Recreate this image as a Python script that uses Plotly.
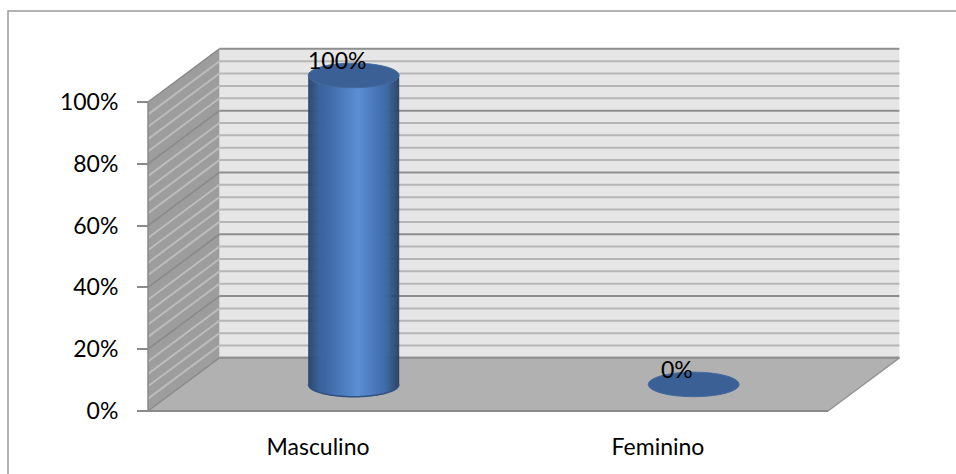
import numpy as np
import plotly.graph_objects as go

# ---- data ----
categories = ["Masculino", "Feminino"]
values = [100, 0]
y_ticks = [0, 20, 40, 60, 80, 100]
y_tick_text = [f"{v}%" for v in y_ticks]

# ---- pseudo-3D geometry (data units: x in categories, y in percent) ----
W, H = 956, 474
PX_PER_CAT = 340.0           # horizontal pixels per category slot
PX_PER_PCT = 3.09            # vertical pixels per percent
FRONT_LEFT_PX = 148.0
FRONT_ZERO_PX = 411.0
DX = 0.21                    # depth offset along x (category units)
DY = 17.2                    # depth offset along y (percent units)
GRID_STEP = 4                # minor gridline spacing
MAJOR_STEP = 20
Y_MAX = 100
N_CAT = len(categories)

x_range = [-FRONT_LEFT_PX / PX_PER_CAT, (W - FRONT_LEFT_PX) / PX_PER_CAT]
y_range = [(FRONT_ZERO_PX - H) / PX_PER_PCT, FRONT_ZERO_PX / PX_PER_PCT]

CYL_A = 45.5 / PX_PER_CAT    # cylinder half width
CYL_B = 12.3 / PX_PER_PCT    # ellipse half height

FONT = "Lato"
shapes = []


def poly(pts, fill, line_color=None, width=0):
    d = "M " + " L ".join(f"{x:.5f},{y:.5f}" for x, y in pts) + " Z"
    return dict(type="path", xref="x", yref="y", path=d, fillcolor=fill,
                line=dict(color=line_color or fill, width=width))


def seg(x0, y0, x1, y1, color, width):
    return dict(type="line", xref="x", yref="y", x0=x0, y0=y0, x1=x1, y1=y1,
                line=dict(color=color, width=width))


# back wall
shapes.append(poly([(DX, DY), (N_CAT + DX, DY), (N_CAT + DX, Y_MAX + DY), (DX, Y_MAX + DY)],
                   "#e6e6e6"))
# side wall
shapes.append(poly([(0, 0), (DX, DY), (DX, Y_MAX + DY), (0, Y_MAX)], "#9d9d9d"))

# gridlines on back and side walls
for g in range(0, Y_MAX + 1, GRID_STEP):
    major = g % MAJOR_STEP == 0
    shapes.append(seg(DX, g + DY, N_CAT + DX, g + DY,
                      "#8e8e8e" if major else "#b6b6b6", 2))
    if 0 < g < Y_MAX:
        shapes.append(seg(0, g, DX, g + DY,
                          "#8a8a8a" if major else "#bcbcbc", 1.6 if major else 2))

# floor
shapes.append(poly([(0, 0), (N_CAT, 0), (N_CAT + DX, DY), (DX, DY)], "#b1b1b1"))
shapes.append(seg(0, 0, N_CAT, 0, "#8a8a8a", 2))
shapes.append(seg(N_CAT, 0, N_CAT + DX, DY, "#949494", 1.5))
shapes.append(seg(DX, DY, N_CAT + DX, DY, "#8e8e8e", 2))
shapes.append(seg(0, 0, DX, DY, "#8a8a8a", 1.5))
# side wall front edge and top edge
shapes.append(seg(0, 0, 0, Y_MAX, "#8a8a8a", 1.5))
shapes.append(seg(0, Y_MAX, DX, Y_MAX + DY, "#8a8a8a", 1.5))


def shade(t):
    stops = [(0.0, (40, 68, 106)), (0.12, (56, 96, 154)), (0.55, (92, 143, 212)),
             (0.85, (62, 106, 168)), (1.0, (40, 64, 100))]
    for (t0, c0), (t1, c1) in zip(stops[:-1], stops[1:]):
        if t0 <= t <= t1:
            f = (t - t0) / (t1 - t0)
            c = [round(a + (b - a) * f) for a, b in zip(c0, c1)]
            return f"rgb({c[0]},{c[1]},{c[2]})"
    return "rgb(40,64,100)"


annotations = []
for i, (cat, val) in enumerate(zip(categories, values)):
    cx = i + 0.5 + DX / 2
    cb = DY / 2                # base centre (mid depth)
    ct = val + DY / 2          # top centre
    if val > 0:
        n = 90
        xs = np.linspace(cx - CYL_A, cx + CYL_A, n + 1)
        for k in range(n):
            xa, xb = xs[k], min(xs[k + 1] + (xs[1] - xs[0]) * 0.6, cx + CYL_A)
            ya = cb - CYL_B * np.sqrt(max(0.0, 1 - ((xa - cx) / CYL_A) ** 2))
            yb = cb - CYL_B * np.sqrt(max(0.0, 1 - ((xb - cx) / CYL_A) ** 2))
            col = shade((k + 0.5) / n)
            shapes.append(poly([(xa, ct), (xb, ct), (xb, yb), (xa, ya)], col))
        # darker rim along the base
        arc = np.linspace(-1, 1, 60)
        d = "M " + " L ".join(
            f"{cx + CYL_A * u:.5f},{cb - CYL_B * np.sqrt(max(0.0, 1 - u * u)):.5f}" for u in arc)
        shapes.append(dict(type="path", xref="x", yref="y", path=d,
                           line=dict(color="#2f507e", width=1.5)))
    # top cap
    shapes.append(dict(type="circle", xref="x", yref="y",
                       x0=cx - CYL_A, x1=cx + CYL_A, y0=ct - CYL_B, y1=ct + CYL_B,
                       fillcolor="#3a6096", line=dict(color="#44699c", width=1)))
    annotations.append(dict(x=cx, y=ct, xref="x", yref="y", text=f"{val}%",
                            showarrow=False, xshift=-17, yshift=15,
                            font=dict(family=FONT, size=23, color="#000000")))

# outer chart border
shapes.append(dict(type="rect", xref="paper", yref="paper",
                   x0=8 / W, x1=1.02, y0=-0.02, y1=(H - 11) / H,
                   line=dict(color="#9a9a9a", width=1.5), fillcolor="rgba(0,0,0,0)"))

fig = go.Figure()
fig.add_trace(go.Scatter(x=[None], y=[None], showlegend=False, hoverinfo="skip"))

fig.update_layout(
    width=W, height=H,
    margin=dict(l=0, r=0, t=0, b=0),
    paper_bgcolor="white", plot_bgcolor="white",
    showlegend=False,
    shapes=shapes,
    annotations=annotations,
    font=dict(family=FONT, size=23, color="#000000"),
    xaxis=dict(range=x_range, domain=[0, 1], anchor="free",
               position=(H - FRONT_ZERO_PX) / H,
               tickmode="array", tickvals=[i + 0.5 for i in range(N_CAT)],
               ticktext=categories, ticks="", showgrid=False, zeroline=False,
               showline=False, ticklabelstandoff=20,
               tickfont=dict(family=FONT, size=23, color="#000000")),
    yaxis=dict(range=y_range, domain=[0, 1], anchor="free",
               position=FRONT_LEFT_PX / W,
               tickmode="array", tickvals=y_ticks, ticktext=y_tick_text,
               ticks="outside", ticklen=11, tickwidth=1.5, tickcolor="#8a8a8a",
               showgrid=False, zeroline=False, showline=False,
               ticklabelstandoff=14,
               tickfont=dict(family=FONT, size=23, color="#000000")),
)

fig.write_html("out.html")
